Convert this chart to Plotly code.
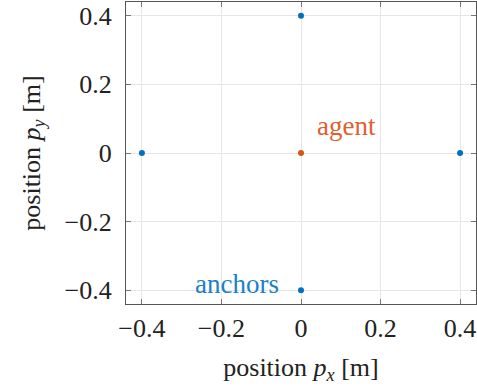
import plotly.graph_objects as go

anchor_x = [-0.4, 0.0, 0.4, 0.0]
anchor_y = [0.0, 0.4, 0.0, -0.4]
agent_x = [0.0]
agent_y = [0.0]
tick_vals = [-0.4, -0.2, 0, 0.2, 0.4]
tick_text = ["\u22120.4", "\u22120.2", "0", "0.2", "0.4"]

BLUE = "#0072BD"
ORANGE = "#D95319"
FONT = "Liberation Serif, DejaVu Serif, serif"
FS = 26

fig = go.Figure()
fig.add_trace(go.Scatter(x=anchor_x, y=anchor_y, mode="markers",
                         marker=dict(color=BLUE, size=6), showlegend=False))
fig.add_trace(go.Scatter(x=agent_x, y=agent_y, mode="markers",
                         marker=dict(color=ORANGE, size=6), showlegend=False))

fig.add_annotation(x=0.036, y=0.079, text="agent", showarrow=False,
                   xanchor="left", yanchor="middle",
                   font=dict(family=FONT, size=FS + 1, color="#E06030"))
fig.add_annotation(x=-0.05, y=-0.381, text="anchors", showarrow=False,
                   xanchor="right", yanchor="middle",
                   font=dict(family=FONT, size=FS + 1, color="#1A80C8"))

axis_common = dict(range=[-0.44, 0.44], tickvals=tick_vals, ticktext=tick_text,
                   showgrid=True, gridcolor="#E6E6E6", gridwidth=1,
                   zeroline=False, showline=True, linecolor="#555555", linewidth=1.2,
                   mirror="ticks", ticks="inside", ticklen=5, tickcolor="#777777",
                   tickfont=dict(family=FONT, size=FS, color="#222222"))

fig.update_xaxes(**axis_common, ticklabelstandoff=1,
                 title=dict(text="position <i>p<sub>x</sub></i> [m]",
                            font=dict(family=FONT, size=FS, color="#222222"), standoff=15))
fig.update_yaxes(**axis_common, ticklabelstandoff=8,
                 title=dict(text="position <i>p<sub>y</sub></i> [m]",
                            font=dict(family=FONT, size=FS, color="#222222"), standoff=16))

fig.update_layout(width=477, height=390, margin=dict(l=126, r=1, t=2, b=86),
                  plot_bgcolor="white", paper_bgcolor="white")

fig.write_html("out.html")
